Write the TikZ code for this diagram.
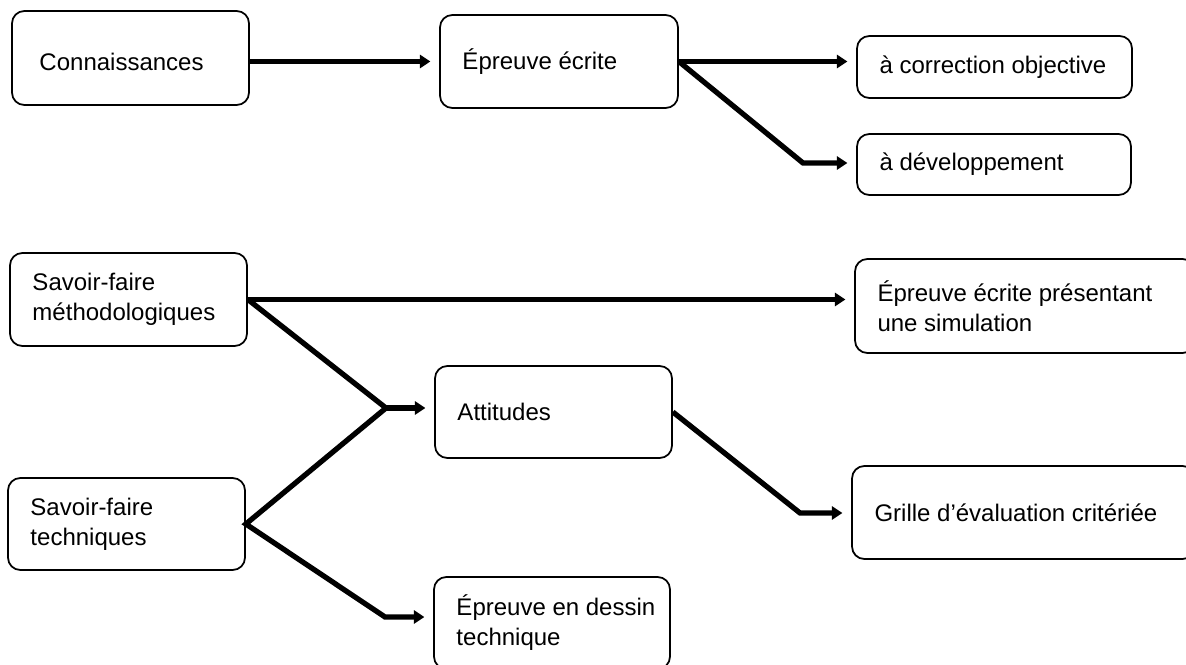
\documentclass[tikz,border=0pt]{standalone}
\usepackage{fontspec}
\setmainfont{Liberation Sans}
\usetikzlibrary{arrows.meta}

\begin{document}
\begin{tikzpicture}[x=0.02cm, y=-0.02cm,
        box/.style={draw, line width=1pt, rounded corners=7pt, inner sep=0pt},
        txt/.style={anchor=west, xshift=0.46cm, inner sep=0pt, align=left,
            font=\fontsize{13.66}{17.07}\selectfont},
        link/.style={line width=3pt, -{Triangle[length=6pt, width=7.5pt]}, shorten >=5pt}]
        \useasboundingbox (0,0) rectangle (1186,665);

        % bloky
        \node[box, minimum width=4.74cm, minimum height=1.88cm, label={[txt, xshift=0.1cm, yshift=-0.08cm]west:Connaissances}] (conn) at (130.5,58) {};
        \node[box, minimum width=4.76cm, minimum height=1.86cm, label={[txt]west:Épreuve écrite}] (ecrite) at (559,61.5) {};
        \node[box, minimum width=5.50cm, minimum height=1.24cm, label={[txt]west:à correction objective}] (objective) at (994.5,67) {};
        \node[box, minimum width=5.48cm, minimum height=1.22cm, label={[txt]west:à développement}] (developpement) at (994,164.5) {};
        \node[box, minimum width=4.74cm, minimum height=1.86cm, label={[txt]west:Savoir-faire\\méthodologiques}] (methodo) at (128.5,299.5) {};
        \node[box, minimum width=6.80cm, minimum height=1.88cm, label={[txt]west:Épreuve écrite présentant\\une simulation}] (simulation) at (1025,306) {};
        \node[box, minimum width=4.74cm, minimum height=1.84cm, label={[txt]west:Attitudes}] (attitudes) at (553.5,412) {};
        \node[box, minimum width=4.74cm, minimum height=1.84cm, label={[txt]west:Savoir-faire\\techniques}] (techniques) at (126.5,524) {};
        \node[box, minimum width=6.86cm, minimum height=1.86cm, label={[txt]west:Grille d’évaluation critériée}] (grille) at (1023.5,512.5) {};
        \node[box, minimum width=4.72cm, minimum height=1.84cm, label={[txt]west:Épreuve en dessin\\technique}] (dessin) at (552,623) {};

        % zlomy
        \coordinate (bendDev) at (803,163);
        \coordinate (fork) at (386,408);
        \coordinate (bendDessin) at (385,617);
        \coordinate (bendGrille) at (800,513);

        % spojnice
        \draw[link] (ecrite.west -| conn.east) -- (ecrite.west);
        \draw[link] (ecrite.east) -- (ecrite.east -| objective.west);
        \draw[link] (ecrite.east) -- (bendDev) -- (bendDev -| developpement.west);
        \draw[link] (methodo.east) -- (methodo.east -| simulation.west);
        \draw[link] (methodo.east) -- (fork) -- (techniques.east) -- (bendDessin) -- (bendDessin -| dessin.west);
        \draw[link] (fork) -- (fork -| attitudes.west);
        \draw[link] (attitudes.east) -- (bendGrille) -- (bendGrille -| grille.west);
    \end{tikzpicture}
\end{document}
